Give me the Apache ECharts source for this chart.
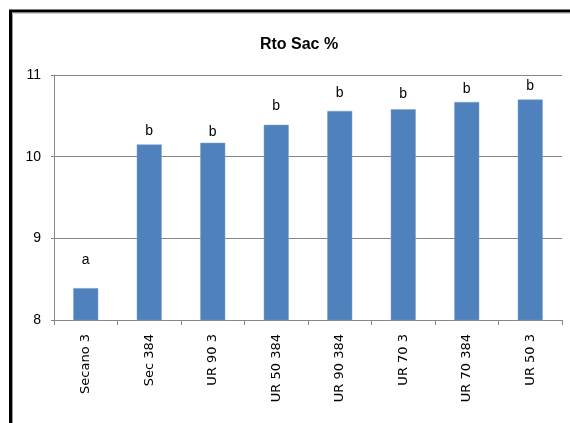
<!DOCTYPE html>
<html>
<head>
<meta charset="utf-8">
<script src="https://cdn.jsdelivr.net/npm/echarts@6/dist/echarts.min.js"></script>
<style>
  html, body { margin: 0; padding: 0; background: #ffffff; }
  #chart { width: 570px; height: 423px; }
</style>
</head>
<body>
<div id="chart"></div>
<script>
// Treatments and sugar yield (Rto Sac %) with significance letters
const categories = ['Secano 3', 'Sec 384', 'UR 90 3', 'UR 50 384', 'UR 90 384', 'UR 70 3', 'UR 70 384', 'UR 50 3'];
const values = [8.39, 10.15, 10.17, 10.39, 10.56, 10.58, 10.67, 10.70];
const letters = ['a', 'b', 'b', 'b', 'b', 'b', 'b', 'b'];
const yTicks = [8, 9, 10, 11];

// gap (px) between each bar top and its letter
const letterGaps = [21, 6, 4, 12, 11, 8, 6, 6];

const chart = echarts.init(document.getElementById('chart'), null, { renderer: 'canvas' });

const sans = 'Liberation Sans, Arial, sans-serif';
const wide = 'DejaVu Sans, Verdana, sans-serif';

chart.setOption({
  animation: false,
  backgroundColor: '#ffffff',
  title: {
    text: 'Rto Sac %',
    left: 294,
    top: 32,
    textAlign: 'center',
    textStyle: { fontFamily: sans, fontSize: 16, fontWeight: 'bold', color: '#000000' }
  },
  graphic: [
    // frame around the chart area
    { type: 'line', shape: { x1: 10.5, y1: 11, x2: 10.5, y2: 423 }, style: { stroke: '#000000', lineWidth: 3 } },
    { type: 'line', shape: { x1: 9, y1: 11, x2: 570, y2: 11 }, style: { stroke: '#000000', lineWidth: 3 } },
    { type: 'line', shape: { x1: 12.5, y1: 13, x2: 12.5, y2: 423 }, style: { stroke: '#9a9a9a', lineWidth: 1 } },
    { type: 'line', shape: { x1: 12, y1: 13.5, x2: 570, y2: 13.5 }, style: { stroke: '#d0d0d0', lineWidth: 1 } }
  ],
  grid: { left: 54, right: 8, top: 75, bottom: 103, containLabel: false },
  xAxis: {
    type: 'category',
    data: categories,
    boundaryGap: true,
    axisLine: { show: true, lineStyle: { color: '#868686', width: 1 } },
    axisTick: { show: true, alignWithLabel: false, length: 5, lineStyle: { color: '#868686' } },
    axisLabel: {
      rotate: 90,
      interval: 0,
      margin: 14,
      fontFamily: wide,
      fontSize: 13,
      color: '#000000'
    }
  },
  yAxis: {
    type: 'value',
    min: yTicks[0],
    max: yTicks[yTicks.length - 1],
    interval: 1,
    axisLine: { show: true, lineStyle: { color: '#868686', width: 1 } },
    axisTick: { show: true, length: 3, lineStyle: { color: '#868686' } },
    axisLabel: { margin: 13, fontFamily: sans, fontSize: 14, color: '#000000' },
    splitLine: { show: true, lineStyle: { color: '#868686', width: 1 } }
  },
  series: [{
    type: 'bar',
    data: values.map((v, i) => ({ value: v, label: { distance: letterGaps[i] } })),
    barWidth: 25,
    itemStyle: { color: '#4f81bd', borderColor: '#7fa3d1', borderWidth: 0.5 },
    label: {
      show: true,
      position: 'top',
      fontFamily: sans,
      fontSize: 14,
      color: '#000000',
      formatter: p => letters[p.dataIndex]
    }
  }]
});
</script>
</body>
</html>
